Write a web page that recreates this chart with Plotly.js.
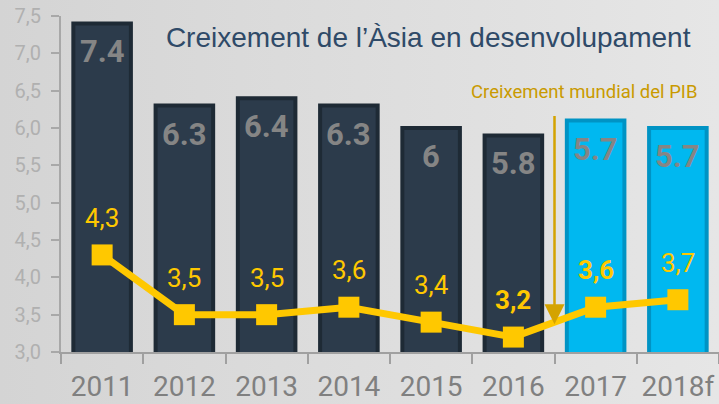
<!DOCTYPE html>
<html><head><meta charset="utf-8">
<script src="https://cdn.plot.ly/plotly-3.0.1.min.js"></script>
<style>
html,body{margin:0;padding:0;}
body{width:719px;height:404px;background:linear-gradient(to right,#d4d4d4,#e6e6e6);}
#chart{width:719px;height:404px;}
</style></head>
<body><div id="chart"></div>
<script>
const years = ["2011","2012","2013","2014","2015","2016","2017","2018f"];
const asiaGrowth = [7.4, 6.3, 6.4, 6.3, 6.0, 5.9, 6.1, 6.0];
const asiaLabels = ["7.4","6.3","6.4","6.3","6","5.8","5.7","5.7"];
const worldGrowth = [4.3, 3.5, 3.5, 3.6, 3.4, 3.2, 3.6, 3.7];
const worldLabels = ["4,3","3,5","3,5","3,6","3,4","<b>3,2</b>","<b>3,6</b>","3,7"];
const yTicks = [3.0,3.5,4.0,4.5,5.0,5.5,6.0,6.5,7.0,7.5];

const barFill = years.map((y,i)=> i>=6 ? "#00b8f0" : "#2c3b4b");
const barLine = years.map((y,i)=> i>=6 ? "#0093c4" : "#1e2a35");

const traces = [
  {type:"bar", x:years, y:asiaGrowth, width:0.7,
   marker:{color:barFill, line:{color:barLine, width:4}}, hoverinfo:"skip"},
  {type:"scatter", mode:"lines+markers", x:years, y:worldGrowth,
   line:{color:"#ffc800", width:7}, marker:{symbol:"square", size:21, color:"#ffc800"},
   hoverinfo:"skip", cliponaxis:false}
];

const annotations = [];
years.forEach((yr,i)=>{
  annotations.push({xref:"x", yref:"y", x:i, y:asiaGrowth[i], text:"<b>"+asiaLabels[i]+"</b>",
    showarrow:false, yanchor:"top", yshift:-8,
    font:{family:"Roboto", size:31, color:"#858585"}});
  annotations.push({xref:"x", yref:"y", x:i, y:worldGrowth[i], text:worldLabels[i],
    showarrow:false, yanchor:"bottom", yshift:20,
    font:{family:"Roboto", size:26, color:"#ffc800"}});
});
annotations.push({xref:"x", yref:"y", axref:"x", ayref:"y", x:5.5, y:3.37, ax:5.5, ay:6.18,
  text:"", showarrow:true, arrowhead:2, arrowsize:1.6, arrowwidth:2.5, arrowcolor:"#d4a300"});
annotations.push({xref:"paper", yref:"paper", x:0.97, y:(352-92)/336, xanchor:"right", yanchor:"middle",
  text:"Creixement mundial del PIB", showarrow:false,
  font:{family:"Roboto", size:18.5, color:"#c99a00"}});

const layout = {
  width:719, height:404,
  margin:{l:61, r:0, t:16, b:52},
  paper_bgcolor:"rgba(0,0,0,0)", plot_bgcolor:"rgba(0,0,0,0)",
  showlegend:false,
  separators:",.",
  bargap:0.3,
  title:{text:"Creixement de l’Àsia en desenvolupament", x:0.558, xref:"paper", xanchor:"center",
    y:1-37/404, yref:"container", yanchor:"middle",
    font:{family:"Liberation Sans, Arial", size:28, color:"#2f4a68"}},
  xaxis:{type:"category", tickson:"boundaries", ticks:"outside", ticklen:10, tickcolor:"#a0a0a0", tickwidth:2,
    showline:true, linecolor:"#a0a0a0", linewidth:2, showgrid:false, zeroline:false,
    tickangle:0, ticklabelstandoff:8,
    tickfont:{family:"Roboto", size:28, color:"#808080"}, range:[-0.5,7.5]},
  yaxis:{range:[3,7.5], tickvals:yTicks, tickformat:".1f", ticks:"outside", ticklen:8,
    tickcolor:"#a8a8a8", tickwidth:2, showline:true, linecolor:"#a8a8a8", linewidth:2,
    ticklabelstandoff:6,
    showgrid:false, zeroline:false, tickfont:{family:"Roboto", size:20, color:"#b0b0b0"}},
  annotations:annotations
};
Plotly.newPlot("chart", traces, layout, {displayModeBar:false, staticPlot:true});
</script></body></html>
